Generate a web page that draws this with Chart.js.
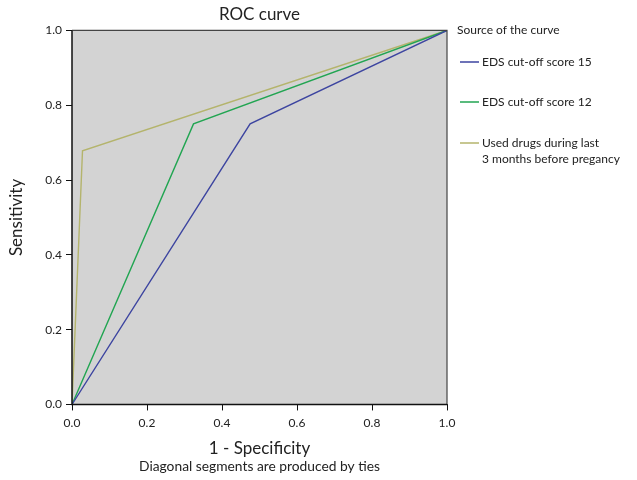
<!DOCTYPE html>
<html>
    <head>
        <title>ROC curve</title>
        <script src="https://cdn.jsdelivr.net/npm/chart.js@4.4.1/dist/chart.umd.min.js"></script>
        <style>
            html, body { margin: 0; padding: 0; background: #fff; }
            .chart-box { width: 637px; height: 480px; }
        </style>
    </head>
    <body>
        <div class="chart-box">
            <canvas id="rocChart"></canvas>
        </div>
    </body>
    <script>
        // values
        const xTicks = [0, 0.2, 0.4, 0.6, 0.8, 1.0];
        const yTicks = [0, 0.2, 0.4, 0.6, 0.8, 1.0];

        const eds15Fpr = [0, 0.475, 1];
        const eds15Sens = [0, 0.75, 1];
        const eds12Fpr = [0, 0.324, 1];
        const eds12Sens = [0, 0.75, 1];
        const drugsFpr = [0, 0.028, 1];
        const drugsSens = [0, 0.678, 1];

        const seriesNames = ['EDS cut-off score 15', 'EDS cut-off score 12', 'Used drugs during last\n3 months before pregancy'];
        const seriesColors = ['#3d45a0', '#22a552', '#b4b46c'];

        function toPoints(xs, ys) {
            return xs.map((x, i) => ({ x: x, y: ys[i] }));
        }

        const FONT = 'Lato, "Noto Sans", sans-serif';

        // gray plot background + box
        const plotBox = {
            id: 'plotBox',
            beforeDatasetsDraw(chart) {
                const { ctx, chartArea: a } = chart;
                ctx.save();
                ctx.fillStyle = '#d3d3d3';
                ctx.fillRect(a.left, a.top, a.right - a.left, a.bottom - a.top);
                ctx.restore();
            },
            afterDatasetsDraw(chart) {
                const { ctx, chartArea: a } = chart;
                ctx.save();
                ctx.strokeStyle = '#444';
                ctx.lineWidth = 1.2;
                ctx.beginPath();
                ctx.moveTo(a.left, a.top);
                ctx.lineTo(a.right, a.top);
                ctx.lineTo(a.right, a.bottom);
                ctx.stroke();
                ctx.strokeStyle = '#111';
                ctx.lineWidth = 1.5;
                ctx.beginPath();
                ctx.moveTo(a.left, a.top);
                ctx.lineTo(a.left, a.bottom);
                ctx.lineTo(a.right, a.bottom);
                ctx.stroke();
                ctx.restore();
            }
        };

        // legend on the right, like the spss output
        const sideLegend = {
            id: 'sideLegend',
            afterDraw(chart) {
                const { ctx } = chart;
                ctx.save();
                ctx.textBaseline = 'middle';
                ctx.textAlign = 'left';
                ctx.fillStyle = '#222';
                ctx.font = '12px ' + FONT;
                ctx.fillText('Source of the curve', 457, 30);
                const rowY = [62, 102, 143];
                chart.data.datasets.forEach((ds, i) => {
                    ctx.strokeStyle = ds.borderColor;
                    ctx.lineWidth = 1.5;
                    ctx.beginPath();
                    ctx.moveTo(460, rowY[i]);
                    ctx.lineTo(479, rowY[i]);
                    ctx.stroke();
                    ds.label.split('\n').forEach((line, j) => {
                        ctx.fillText(line, 482, rowY[i] + j * 16);
                    });
                });
                ctx.restore();
            }
        };

        var ctx1 = document.getElementById('rocChart').getContext('2d');
        var rocChart = new Chart(ctx1, {
            type: 'scatter',
            data: {
                datasets: [
                    { label: seriesNames[0], data: toPoints(eds15Fpr, eds15Sens), borderColor: seriesColors[0] },
                    { label: seriesNames[1], data: toPoints(eds12Fpr, eds12Sens), borderColor: seriesColors[1] },
                    { label: seriesNames[2], data: toPoints(drugsFpr, drugsSens), borderColor: seriesColors[2] }
                ].map(d => Object.assign(d, { showLine: true, pointRadius: 0, borderWidth: 1.4, fill: false, tension: 0 }))
            },
            options: {
                responsive: true,
                maintainAspectRatio: false,
                animation: false,
                layout: { padding: { top: 0, right: 190, bottom: 0, left: 0 } },
                plugins: {
                    legend: { display: false },
                    tooltip: { enabled: false },
                    title: {
                        display: true,
                        text: 'ROC curve',
                        fullSize: false,
                        color: '#222',
                        font: { family: FONT, size: 17, weight: 'normal' },
                        padding: { top: 4, bottom: 6 }
                    },
                    subtitle: {
                        display: true,
                        position: 'bottom',
                        fullSize: false,
                        text: 'Diagonal segments are produced by ties',
                        color: '#222',
                        font: { family: FONT, size: 13.8, weight: 'normal' },
                        padding: { top: 0, bottom: 5 }
                    }
                },
                scales: {
                    x: {
                        type: 'linear',
                        min: 0, max: 1,
                        afterBuildTicks(scale) { scale.ticks = xTicks.map(v => ({ value: v })); },
                        afterFit(scale) { scale.height = 54; },
                        grid: { drawOnChartArea: false, tickLength: 6, color: '#111' },
                        border: { display: false },
                        ticks: {
                            color: '#222', padding: 5,
                            font: { family: FONT, size: 12 },
                            callback: v => v.toFixed(1)
                        },
                        title: {
                            display: true, text: '1 - Specificity', color: '#222',
                            font: { family: FONT, size: 17 },
                            padding: { top: 8, bottom: 0 }
                        }
                    },
                    y: {
                        type: 'linear',
                        min: 0, max: 1,
                        afterBuildTicks(scale) { scale.ticks = yTicks.map(v => ({ value: v })); },
                        afterFit(scale) { scale.width = 72; },
                        grid: { drawOnChartArea: false, tickLength: 6, color: '#111' },
                        border: { display: false },
                        ticks: {
                            color: '#222', padding: 4,
                            font: { family: FONT, size: 12 },
                            callback: v => v.toFixed(1)
                        },
                        title: {
                            display: true, text: 'Sensitivity', color: '#222',
                            font: { family: FONT, size: 17 },
                            padding: { top: 6, bottom: 8 }
                        }
                    }
                }
            },
            plugins: [plotBox, sideLegend]
        });
    </script>
</html>
